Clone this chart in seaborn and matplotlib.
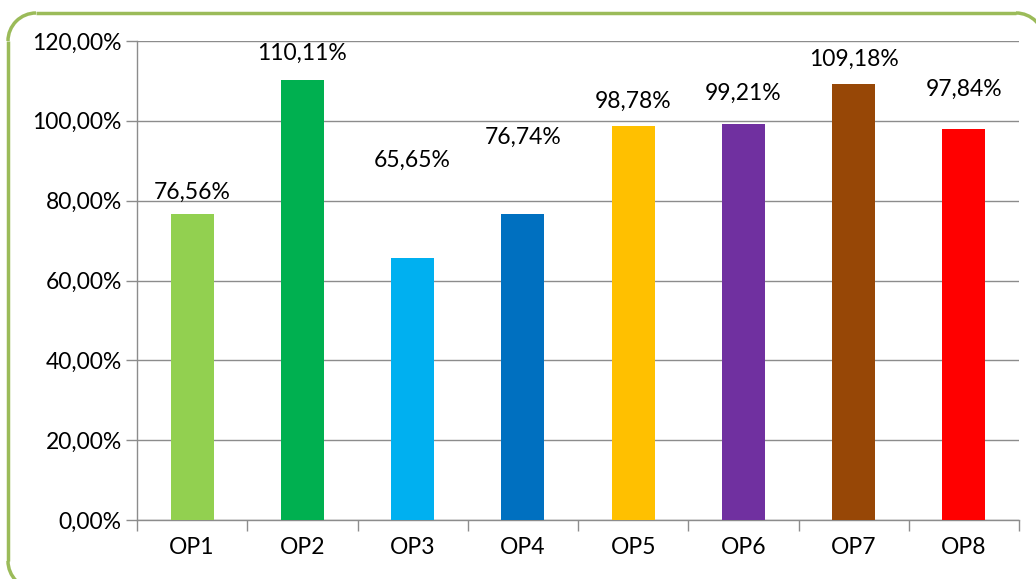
import matplotlib
matplotlib.use("Agg")
import matplotlib.pyplot as plt
from matplotlib.patches import Arc
from matplotlib.ticker import FixedLocator
import seaborn as sns
import pandas as pd

# ---- data ----
categories = ["OP1", "OP2", "OP3", "OP4", "OP5", "OP6", "OP7", "OP8"]
values = [76.56, 110.11, 65.65, 76.74, 98.78, 99.21, 109.18, 97.84]
value_labels = ["76,56%", "110,11%", "65,65%", "76,74%", "98,78%", "99,21%", "109,18%", "97,84%"]
bar_colors = ["#92D050", "#00B050", "#00B0F0", "#0070C0", "#FFC000", "#7030A0", "#974706", "#FF0000"]
y_ticks = [0, 20, 40, 60, 80, 100, 120]
y_tick_labels = ["0,00%", "20,00%", "40,00%", "60,00%", "80,00%", "100,00%", "120,00%"]

# layout: vertical placement of value labels (data units), as in the reference
label_y = [82.0, 117.0, 90.0, 95.8, 104.8, 106.9, 115.3, 108.0]

sns.set_theme(style="white")
plt.rcParams["font.family"] = ["Lato", "DejaVu Sans"]

df = pd.DataFrame({"cat": categories, "val": values})

fig = plt.figure(figsize=(10.36, 5.79), dpi=100)

# overlay axes in pixel units for the rounded frame
bg = fig.add_axes([0, 0, 1, 1], zorder=5)
bg.set_xlim(0, 1036)
bg.set_ylim(0, 579)
bg.axis("off")
bg.patch.set_alpha(0)
fc = "#9BBB59"
lw = 2.5
L, T, R, B, r = 8, 566, 1044, -10, 28
bg.plot([L, L], [B + r, T - r], color=fc, lw=lw, solid_capstyle="butt")
bg.plot([L + r, R - r], [T, T], color=fc, lw=lw, solid_capstyle="butt")
bg.plot([L + r, R - r], [B, B], color=fc, lw=lw, solid_capstyle="butt")
bg.add_patch(Arc((L + r, T - r), 2 * r, 2 * r, theta1=90, theta2=180, color=fc, lw=lw))
bg.add_patch(Arc((L + r, B + r), 2 * r, 2 * r, theta1=180, theta2=270, color=fc, lw=lw))
bg.add_patch(Arc((R - r, T - r), 2 * r, 2 * r, theta1=0, theta2=90, color=fc, lw=lw))

ax = fig.add_axes([137/1036, 59/579, 882/1036, 479/579])

sns.barplot(data=df, x="cat", y="val", hue="cat", palette=bar_colors,
            width=0.39, legend=False, ax=ax, saturation=1, zorder=3,
            edgecolor="none")

FS = 16.5
ax.set_ylim(0, 120)
ax.set_xlim(-0.5, len(categories) - 0.5)
ax.set_yticks(y_ticks)
ax.set_yticklabels(y_tick_labels, fontsize=FS, color="black")
ax.set_xticks(range(len(categories)))
ax.set_xticklabels(categories, fontsize=FS, color="black")
ax.xaxis.set_minor_locator(FixedLocator([i - 0.5 for i in range(len(categories) + 1)]))
ax.tick_params(axis="x", which="major", length=0, pad=12)
ax.tick_params(axis="x", which="minor", length=8, color="#8c8c8c", width=1, direction="out", bottom=True)
ax.tick_params(axis="y", which="major", length=8, color="#8c8c8c", width=1, direction="out", left=True, pad=3)
ax.set_xlabel("")
ax.set_ylabel("")
ax.yaxis.grid(True, color="#8c8c8c", linewidth=1, zorder=0)
ax.set_axisbelow(True)
for s in ["top", "right"]:
    ax.spines[s].set_visible(False)
for s in ["left", "bottom"]:
    ax.spines[s].set_color("#8c8c8c")
    ax.spines[s].set_linewidth(1)

for i, (lab, ly) in enumerate(zip(value_labels, label_y)):
    ax.text(i, ly, lab, ha="center", va="center", fontsize=FS, color="black", zorder=4)

fig.savefig("out.png", dpi=100)
